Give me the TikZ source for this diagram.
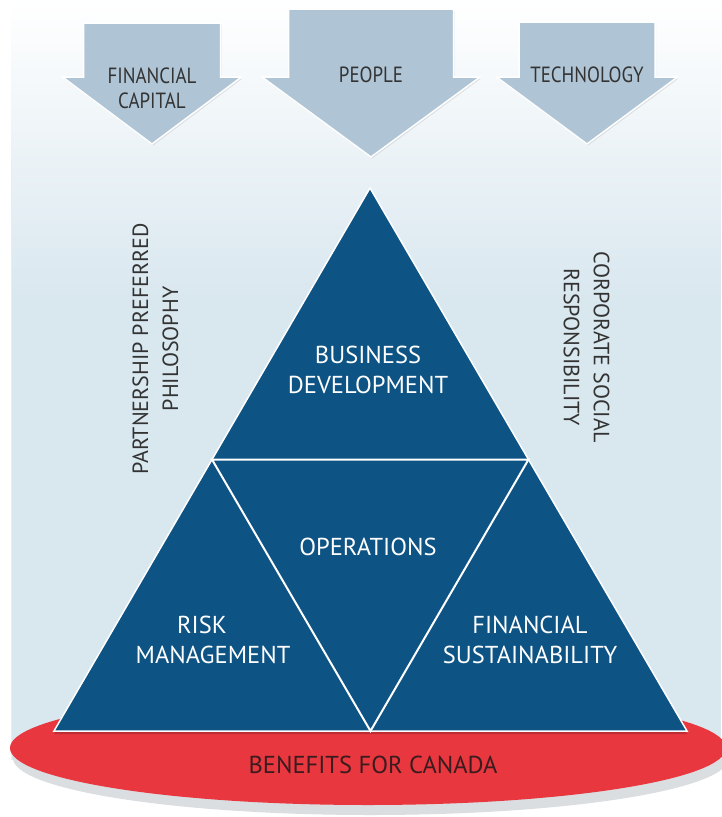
\documentclass[tikz,border=0pt]{standalone}
\usepackage{fontspec}
\setmainfont{PT Sans}
\newfontfamily\narrowfont{PT Sans}[FakeStretch=0.86]
\usetikzlibrary{shadows}

\definecolor{pyramid}{HTML}{0D5384}
\definecolor{inflow}{HTML}{AFC5D6}
\definecolor{panel}{HTML}{D9E7EF}
\definecolor{base}{HTML}{E8373F}
\definecolor{baseshade}{HTML}{DADEE1}
\definecolor{labelgray}{HTML}{333333}
\definecolor{basetext}{HTML}{3A1C1E}

\tikzset{
	inflow label/.style={text=labelgray,align=center,font=\narrowfont\fontsize{22}{25}\selectfont},
	tri label/.style={text=white,align=center,font=\fontsize{24.5}{30}\selectfont},
	side label/.style={text=labelgray,align=center,font=\fontsize{22}{30}\selectfont}
}

\begin{document}
\begin{tikzpicture}[x=1pt,y=-1pt]
	\useasboundingbox (0,0) rectangle (721,817);
	% backdrop panel
	\fill[white] (0,0) rectangle (721,817);
	\shade[top color=white,bottom color=panel] (11,0) rectangle (721,300);
	\fill[panel] (11,299) rectangle (721,760);
	\draw[black!7] (11,160) -- (11,760);

	% the three inputs
	\foreach \cx/\w/\ytop/\wing/\ytip in {152/68.5/23/89.5/144, 371/82.5/9/109/157, 587/68/22/90.5/144}{
		\filldraw[fill=inflow,draw=white,line width=1.5pt,drop shadow={opacity=0.2,shadow xshift=1pt,shadow yshift=-1.5pt}]
			(\cx-\w,\ytop) -- (\cx+\w,\ytop) -- (\cx+\w,77) -- (\cx+\wing,77) -- (\cx,\ytip) -- (\cx-\wing,77) -- (\cx-\w,77) -- cycle;
	}
	\node (capital) [inflow label] at (152,88) {FINANCIAL\\CAPITAL};
	\node (people) [inflow label] at (371,75) {PEOPLE};
	\node (tech) [inflow label] at (587,75) {TECHNOLOGY};

	% red base with its shade
	\fill[baseshade] (371,758) ellipse [x radius=358, y radius=57];
	\fill[base] (368,748) ellipse [x radius=358, y radius=57];
	\node (benefits) [text=basetext,font=\fontsize{24.5}{30}\selectfont] at (373,765) {BENEFITS FOR CANADA};

	% pyramid
	\coordinate (apex) at (370,188);
	\coordinate (bl) at (54,731);
	\coordinate (br) at (687,731);
	\coordinate (ml) at (212,459.5);
	\coordinate (mr) at (528.5,459.5);
	\coordinate (mb) at (370.5,731);
	\fill[black,opacity=0.18] ([yshift=-3pt]bl) -- ([yshift=-3pt]br) -- ([yshift=-3pt]apex) -- cycle;
	\filldraw[fill=pyramid,draw=white,line width=1.5pt] (apex) -- (br) -- (bl) -- cycle;
	\draw[white,line width=2pt] (ml) -- (mr) -- (mb) -- cycle;

	\node (bizdev) [tri label] at (368,370) {BUSINESS\\DEVELOPMENT};
	\node (ops) [tri label] at (368,547) {OPERATIONS};
	\node (risk) [tri label] at (213,640) {RISK\hspace*{22pt}\\MANAGEMENT};
	\node (finsus) [tri label] at (530,640) {FINANCIAL\\SUSTAINABILITY};

	% the two sides
	\node (partner) [side label,rotate=90] at (155.5,349) {PARTNERSHIP PREFERRED\\PHILOSOPHY};
	\node (csr) [side label,rotate=-90] at (586.5,347) {CORPORATE SOCIAL\\RESPONSIBILITY};
\end{tikzpicture}
\end{document}
